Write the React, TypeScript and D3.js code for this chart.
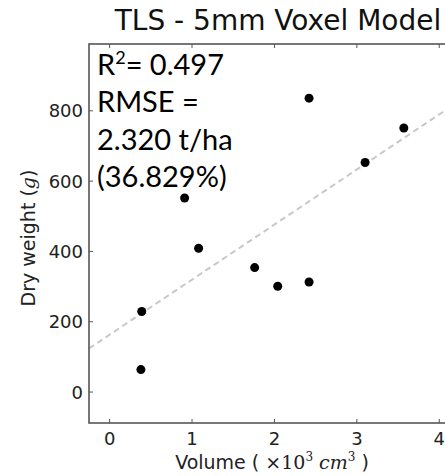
import React from 'react';
import * as d3 from 'd3';

// volume (x10^3 cm^3) vs dry weight (g)
const volume = [0.38, 0.39, 0.91, 1.08, 1.76, 2.04, 2.42, 2.42, 3.1, 3.57];
const dryWeight = [64, 229, 552, 409, 354, 301, 313, 836, 653, 751];

const xTicks = [0, 1, 2, 3, 4];
const yTicks = [0, 200, 400, 600, 800];

const titleText = 'TLS - 5mm Voxel Model';
const statLines = ['RMSE =', '2.320 t/ha', '(36.829%)'];
const r2Text = '= 0.497';

export default function App() {
  const width = 445;
  const height = 476;
  const left = 89, right = 464, top = 44, bottom = 423;

  const x = d3.scaleLinear().domain([-0.25, 4.3]).range([left, right]);
  const y = d3.scaleLinear().domain([-88, 990]).range([bottom, top]);

  // least squares fit
  const mx = d3.mean(volume) as number;
  const my = d3.mean(dryWeight) as number;
  let sxy = 0, sxx = 0;
  volume.forEach((v, i) => {
    sxy += (v - mx) * (dryWeight[i] - my);
    sxx += (v - mx) * (v - mx);
  });
  const slope = sxy / sxx;
  const icpt = my - slope * mx;
  const [x0, x1] = x.domain();
  const fitLine = d3.line<number>()
    .x(d => x(d))
    .y(d => y(icpt + slope * d));

  const spine = '#555';
  const tickFont = { fontFamily: 'DejaVu Sans', fontSize: '18px' };
  const statFont = { fontFamily: 'Lato', fontSize: '29px' };

  return (
    <svg width={width} height={height} style={{ position: 'absolute', left: 0, top: 0 }}>
      <defs>
        <clipPath id="plotArea">
          <rect x={left} y={top} width={right - left} height={bottom - top} />
        </clipPath>
      </defs>
      <rect width={width} height={height} fill="#fff" />

      <g clipPath="url(#plotArea)">
        <path d={fitLine([x0, x1]) || ''} fill="none" stroke="#c8c8c8"
              strokeWidth={2} strokeDasharray="6,4" />
        {volume.map((v, i) => (
          <circle key={i} cx={x(v)} cy={y(dryWeight[i])} r={4.5} fill="#000" />
        ))}
      </g>

      {/* spines */}
      <rect x={left} y={top} width={right - left} height={bottom - top}
            fill="none" stroke={spine} strokeWidth={1.6} />

      {xTicks.map(t => (
        <g key={'x' + t}>
          <line x1={x(t)} x2={x(t)} y1={bottom} y2={bottom - 4} stroke={spine} />
          <line x1={x(t)} x2={x(t)} y1={top} y2={top + 4} stroke={spine} />
          <text x={x(t)} y={445} textAnchor="middle" fill="#222" style={tickFont}>{t}</text>
        </g>
      ))}
      {yTicks.map(t => (
        <g key={'y' + t}>
          <line x1={left} x2={left + 4} y1={y(t)} y2={y(t)} stroke={spine} />
          <line x1={right} x2={right - 4} y1={y(t)} y2={y(t)} stroke={spine} />
          <text x={83} y={y(t)} dy="0.36em" textAnchor="end" fill="#222" style={tickFont}>{t}</text>
        </g>
      ))}

      <text x={278} y={30} textAnchor="middle" fill="#111"
            style={{ fontFamily: 'DejaVu Sans', fontSize: '28px' }}>{titleText}</text>

      <text x={97} y={75} fill="#000" style={statFont}>
        R<tspan dy="-11" style={{ fontSize: '18px' }}>2</tspan><tspan dy="11">{r2Text}</tspan>
      </text>
      {statLines.map((s, i) => (
        <text key={s} x={97} y={112 + i * 37.5} fill="#000" style={statFont}>{s}</text>
      ))}

      <text x={272} y={469} textAnchor="middle" fill="#222"
            style={{ fontFamily: 'DejaVu Sans', fontSize: '19px' }}>
        Volume ( <tspan style={{ fontFamily: 'DejaVu Serif' }}>×10</tspan>
        <tspan dy="-8" style={{ fontFamily: 'DejaVu Serif', fontSize: '12px' }}>3</tspan>
        <tspan dy="8" style={{ fontFamily: 'DejaVu Serif', fontStyle: 'italic' }}> cm</tspan>
        <tspan dy="-8" style={{ fontFamily: 'DejaVu Serif', fontSize: '12px' }}>3</tspan>
        <tspan dy="8"> )</tspan>
      </text>

      <text transform="translate(35,238) rotate(-90)" textAnchor="middle" fill="#222"
            style={{ fontFamily: 'DejaVu Sans', fontSize: '19px' }}>
        Dry weight (<tspan style={{ fontFamily: 'DejaVu Serif', fontStyle: 'italic' }}>g</tspan>)
      </text>
    </svg>
  );
}
